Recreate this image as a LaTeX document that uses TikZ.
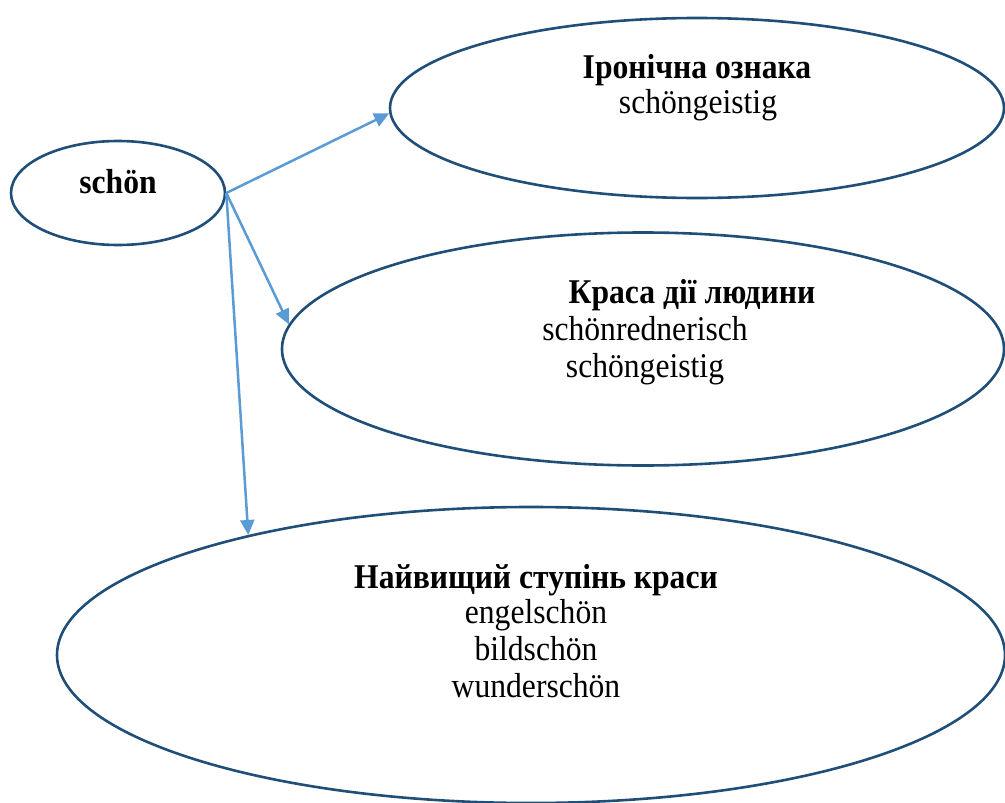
\documentclass[tikz,border=0pt]{standalone}
\usepackage{fontspec}
\usepackage{graphicx}
\setmainfont{Liberation Serif}
\usetikzlibrary{shapes.geometric,arrows.meta}
\definecolor{edark}{HTML}{1F4E79}
\definecolor{alight}{HTML}{5B9BD5}
\newcommand{\vstr}[1]{\scalebox{1.02}[1.12]{#1}}
\tikzset{
  oval/.style={ellipse, draw=edark, line width=2.6pt, inner sep=0pt},
  conn/.style={draw=alight, line width=2.5pt, -{Triangle[length=15pt,width=14pt]}},
  txt/.style={anchor=base, inner sep=0pt, font=\fontsize{31}{37}\selectfont},
  btxt/.style={txt, font=\fontsize{31}{37}\selectfont\bfseries}
}
\begin{document}
\begin{tikzpicture}[x=1pt,y=-1pt]
\useasboundingbox (0,0) rectangle (1005,803);
\node[oval, minimum width=214pt, minimum height=104pt] (e1) at (118,193) {};
\node[oval, minimum width=614pt, minimum height=180pt] (e2) at (697,108) {};
\node[oval, minimum width=722pt, minimum height=233pt] (e3) at (643,349) {};
\node[oval, minimum width=948pt, minimum height=296pt] (e4) at (531,655) {};

\node[btxt] (t1) at (118,193) {\vstr{schön}};
\node[btxt] (t2) at (697,78) {\vstr{Іронічна ознака}};
\node[txt] (t2a) at (698,113) {\vstr{schöngeistig}};
\node[btxt] (t3) at (692,303) {\vstr{Краса дії людини}};
\node[txt] (t3a) at (645,340) {\vstr{schönrednerisch}};
\node[txt] (t3b) at (645,377) {\vstr{schöngeistig}};
\node[btxt] (t4) at (536,588) {\vstr{Найвищий ступінь краси}};
\node[txt] (t4a) at (536,623) {\vstr{engelschön}};
\node[txt] (t4b) at (536,660) {\vstr{bildschön}};
\node[txt] (t4c) at (536,697) {\vstr{wunderschön}};

\draw[conn] (e1.east) -- (e2.181);
\draw[conn] (e1.east) -- (e3.176);
\draw[conn] (e1.east) -- (e4.157);
\end{tikzpicture}
\end{document}
